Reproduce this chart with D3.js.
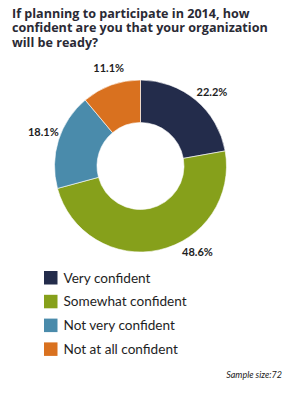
<!DOCTYPE html>
<html>
<head>
<meta charset="utf-8">
<script src="https://cdn.jsdelivr.net/npm/d3@7"></script>
<style>
  html, body { margin: 0; padding: 0; background: #ffffff; }
  svg { display: block; }
</style>
</head>
<body>
<svg id="chart" width="297" height="394"></svg>
<script>
const titleLines = ["If planning to participate in 2014, how", "confident are you that your organization", "will be ready?"];
const categories = ["Very confident", "Somewhat confident", "Not very confident", "Not at all confident"];
const values = [22.2, 48.6, 18.1, 11.1];
const colors = ["#232c4b", "#86a01b", "#4a8bab", "#d9711f"];
const sampleNote = "Sample size:72";

// layout
const cx = 140.5, cy = 166, outerR = 86, innerR = 43.5, labelR = 103;
const labelNudge = [4, -21, 2, 2]; // degrees, label placement tweak

const svg = d3.select("#chart");

const title = svg.append("g").selectAll("text").data(titleLines).join("text")
  .attr("x", 12).attr("y", (d, i) => 17.5 + i * 14.5)
  .attr("font-family", "'Open Sans', sans-serif").attr("font-weight", "bold")
  .attr("font-size", 13).attr("fill", "#2a2a35").text(d => d);
// fit second line to the reference width
const w = title.nodes()[1].getComputedTextLength();
const fs = 13 * 256 / w;
title.attr("font-size", fs);

const pie = d3.pie().sort(null).value(d => d);
const arcs = pie(values);
const arc = d3.arc().innerRadius(innerR).outerRadius(outerR);

const g = svg.append("g").attr("transform", `translate(${cx},${cy})`);
g.selectAll("path").data(arcs).join("path")
  .attr("d", arc).attr("fill", (d, i) => colors[i])
  .attr("stroke", "#ffffff").attr("stroke-width", 0.6);

g.selectAll("text.lbl").data(arcs).join("text").attr("class", "lbl")
  .attr("transform", (d, i) => {
    const a = (d.startAngle + d.endAngle) / 2 + labelNudge[i] * Math.PI / 180;
    return `translate(${Math.sin(a) * labelR},${-Math.cos(a) * labelR})`;
  })
  .attr("text-anchor", "middle").attr("dy", "0.35em")
  .attr("font-family", "Lato, sans-serif").attr("font-weight", "bold")
  .attr("font-size", 11).attr("fill", "#1e1e1e")
  .text(d => d3.format(".1f")(d.data) + "%");

const legend = svg.append("g").attr("transform", "translate(44,271)");
const rows = legend.selectAll("g").data(categories).join("g")
  .attr("transform", (d, i) => `translate(0,${i * 23.8})`);
rows.append("rect").attr("width", 13.5).attr("height", 13.5).attr("fill", (d, i) => colors[i]);
rows.append("text").attr("x", 19.5).attr("y", 11.5)
  .attr("font-family", "Lato, sans-serif").attr("font-size", 13.6).attr("fill", "#1e1e1e")
  .text(d => d);

svg.append("text").attr("x", 282).attr("y", 378).attr("text-anchor", "end")
  .attr("font-family", "Lato, sans-serif").attr("font-style", "italic")
  .attr("font-size", 9).attr("fill", "#222").text(sampleNote);
</script>
</body>
</html>
